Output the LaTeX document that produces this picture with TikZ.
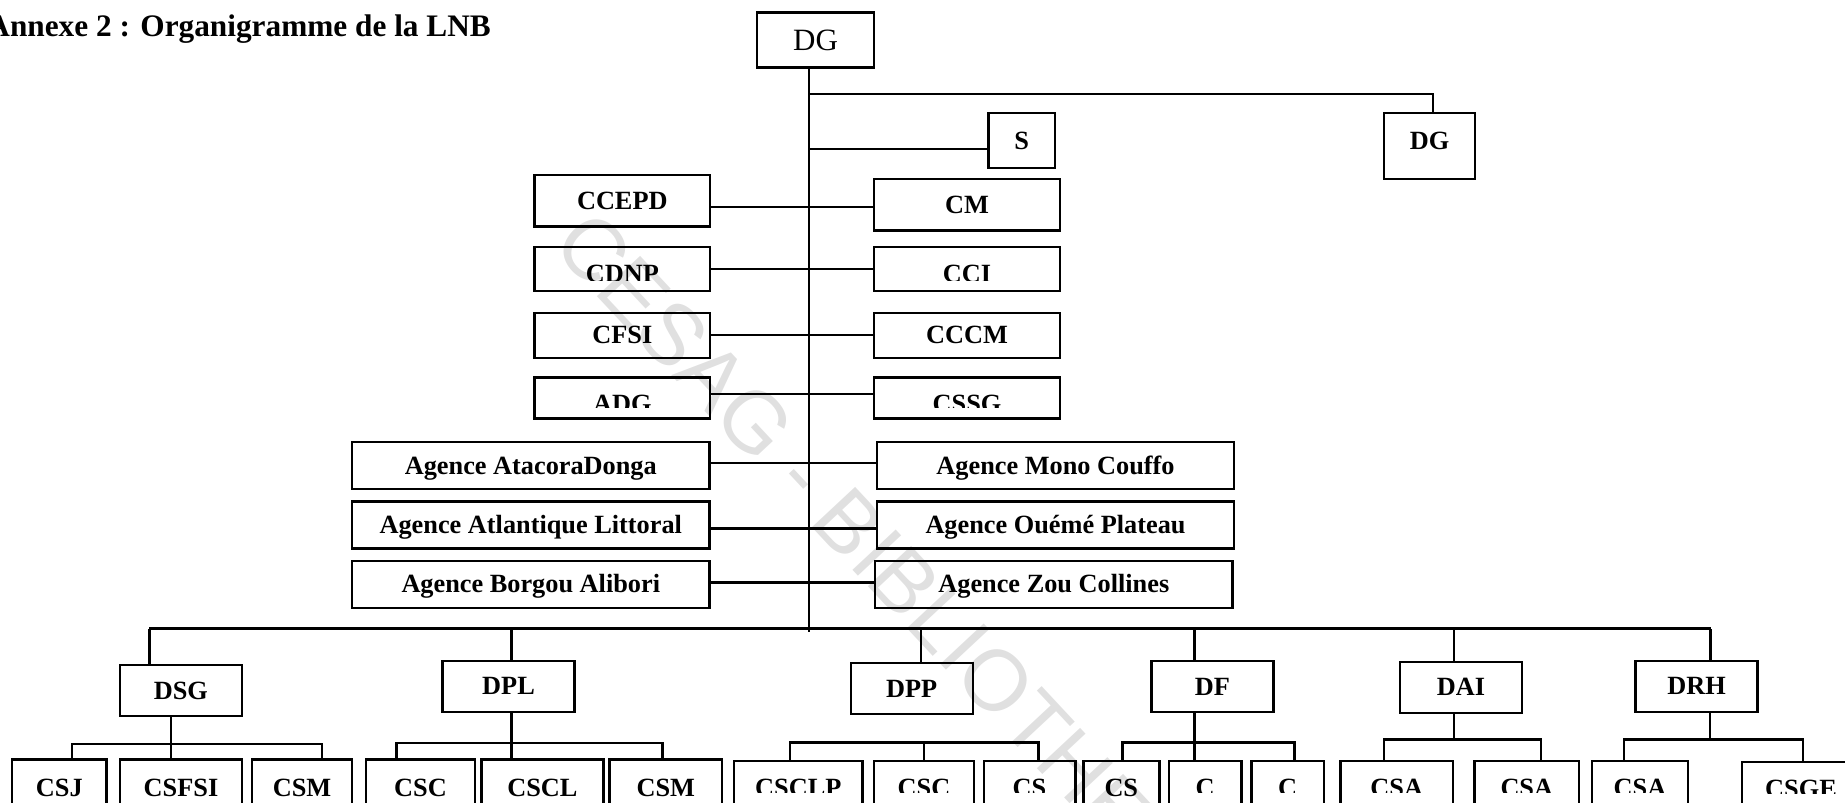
\documentclass[tikz,border=0pt]{standalone}
\usepackage{fontspec}
\setmainfont{Liberation Serif}
\newfontfamily\wmfont{Liberation Sans}
\usetikzlibrary{positioning,calc}

\newcommand\unitfont{\fontsize{26.3}{30}\selectfont\bfseries}
\newcommand\headfont{\fontsize{31.3}{36}\selectfont\bfseries}

\begin{document}
\begin{tikzpicture}[x=1pt, y=-1pt, line width=2.4pt]
    \tikzset{
        unit/.style={draw, rectangle, inner sep=0pt, font=\unitfont, text height=17.4pt, text depth=0pt},
        wire/.style={draw, line width=2.4pt},
        cutunit/.style n args={3}{unit, path picture={
            \clip ([yshift=#3]path picture bounding box.south west) rectangle (path picture bounding box.north east);
            \node[font=\unitfont, draw=none, inner sep=0pt, minimum size=0pt, anchor=base] at ([yshift=#2]path picture bounding box.south) {#1};}},
        leaf/.style n args={3}{cutunit={#1}{#2}{#3}, anchor=north, minimum height=80pt},
        leftcell/.style={unit, minimum width=175.5pt},
        rightcell/.style={unit, minimum width=186pt},
        agency/.style={unit, minimum width=357.5pt, minimum height=47pt},
        direction/.style={unit, minimum width=122pt, minimum height=51pt}
    }
    \useasboundingbox (0,0) rectangle (1845,803);
    \clip (0,0) rectangle (1845,803);

    % filigrane
    \node[font=\wmfont\fontsize{86}{90}\selectfont, text=black!12, rotate=-47] (wm) at (912,602) {CESAG - BIBLIOTHEQUE};

    \node[font=\headfont, anchor=base east, inner sep=0pt] (title) at (492,36) {Annexe 2 : Organigramme de la LNB};

    % direction generale
    \node[unit, font=\fontsize{31}{36}\selectfont, text height=20.5pt, minimum width=117pt, minimum height=55pt] (dgtop) at (815.5,40) {DG};
    \node[unit, minimum width=66.4pt, minimum height=55pt] (sec) at (1021.8,140.5) {S};
    \node[unit, text depth=10pt, minimum width=91pt, minimum height=66pt] (dgadj) at (1429.5,146) {DG};

    \node[leftcell, minimum height=51.3pt] (ccepd) at (622.3,200.7) {CCEPD};
    \node[leftcell, cutunit={CDNP}{8pt}{10.5pt}, minimum height=43.5pt] (cdnp) at (622.3,269) {};
    \node[leftcell, minimum height=45pt] (cfsi) at (622.3,335.2) {CFSI};
    \node[leftcell, cutunit={ADG}{6pt}{11pt}, minimum height=41pt] (adg) at (622.3,397.8) {};

    \node[rightcell, minimum height=51.7pt] (cm) at (967,204.8) {CM};
    \node[rightcell, cutunit={CCI}{8pt}{10.5pt}, minimum height=43.5pt] (cci) at (967,269) {};
    \node[rightcell, minimum height=45pt] (cccm) at (967,335.2) {CCCM};
    \node[rightcell, cutunit={CSSG}{6pt}{11pt}, minimum height=41pt] (cssg) at (967,397.8) {};

    % agences
    \node[agency] (atacora) at (530.8,465.5) {Agence AtacoraDonga};
    \node[agency] (atlantique) at (530.8,525) {Agence Atlantique Littoral};
    \node[agency] (borgou) at (530.8,584.2) {Agence Borgou Alibori};
    \node[agency] (mono) at (1055.5,465.5) {Agence Mono Couffo};
    \node[agency] (oueme) at (1055.5,525) {Agence Ouémé Plateau};
    \node[agency] (zou) at (1053.8,584.2) {Agence Zou Collines};

    % directions techniques
    \node[direction] (dsg) at (180.8,690.7) {DSG};
    \node[direction, minimum width=132pt] (dpl) at (508.5,686.2) {DPL};
    \node[direction] (dpp) at (911.7,688.5) {DPP};
    \node[direction] (df) at (1212.5,686.3) {DF};
    \node[direction] (dai) at (1461,687.2) {DAI};
    \node[direction] (drh) at (1696.5,686.2) {DRH};

    % services
    \node[leaf={CSJ}{43.3pt}{0pt}, minimum width=94.7pt] (csj) at (59.3,758.3) {};
    \node[leaf={CSFSI}{43.3pt}{0pt}, minimum width=122pt] (csfsi) at (181,758.3) {};
    \node[leaf={CSM}{43.3pt}{0pt}, minimum width=100pt] (csm) at (302,758.3) {};
    \node[leaf={CSC}{43.3pt}{0pt}, minimum width=109pt] (csc) at (420.5,758.3) {};
    \node[leaf={CSCL}{43.3pt}{0pt}, minimum width=122.2pt] (cscl) at (542.4,758.3) {};
    \node[leaf={CSM}{43.3pt}{0pt}, minimum width=112.9pt] (csmb) at (665.75,758.3) {};
    \node[leaf={CSCLP}{44.3pt}{48.3pt}, minimum width=128.2pt] (csclp) at (798.3,760) {};
    \node[leaf={CSC}{44.3pt}{48.3pt}, minimum width=100pt] (cscb) at (924,760) {};
    \node[leaf={CS}{44.3pt}{48.3pt}, minimum width=91.6pt] (csdpp) at (1029.5,760) {};
    \node[leaf={CS}{44.3pt}{0pt}, minimum width=76pt] (csf) at (1121.3,760) {};
    \node[leaf={C}{44.3pt}{48.3pt}, minimum width=72.6pt] (ca) at (1205,760) {};
    \node[leaf={C}{44.3pt}{48.3pt}, minimum width=72.7pt] (cb) at (1287.7,760) {};
    \node[leaf={CSA}{44.3pt}{48.3pt}, minimum width=112.5pt] (csa1) at (1396.75,760) {};
    \node[leaf={CSA}{44.3pt}{48.3pt}, minimum width=104.4pt] (csa2) at (1526.8,760) {};
    \node[leaf={CSA}{44.3pt}{48.3pt}, minimum width=96pt] (csa3) at (1640,760) {};
    \node[leaf={CSGE}{44.3pt}{48.3pt}, minimum width=118pt] (csge) at (1801,760.7) {};

    % tronc central
    \coordinate (trunk) at (809,632);
    \coordinate (jadj) at (809,93.7);
    \coordinate (js) at ([yshift=-8.5pt]sec.west);
    \draw[wire] (dgtop.south -| trunk) -- (trunk);
    \draw[wire] (jadj) -| ([xshift=3.5pt]dgadj.north);
    \draw[wire] (js) -- (js -| trunk);

    \draw[wire] ([yshift=-6pt]ccepd.east) -- ([yshift=-1.9pt]cm.west);
    \draw[wire] (cdnp.east) -- (cci.west);
    \draw[wire] (cfsi.east) -- (cccm.west);
    \draw[wire] ([yshift=3.8pt]adg.east) -- ([yshift=3.8pt]cssg.west);
    \draw[wire] ([yshift=2.8pt]atacora.east) -- ([yshift=2.8pt]mono.west);
    \draw[wire] ([yshift=-3.3pt]atlantique.east) -- ([yshift=-3.3pt]oueme.west);
    \draw[wire] ([yshift=1.9pt]borgou.east) -- ([yshift=1.9pt]zou.west);

    % bus des directions
    \coordinate (busL) at (149.3,628.5);
    \coordinate (busR) at (1710.6,628.5);
    \draw[wire] (busL) -- (busR);
    \foreach \d/\dx in {dsg/-31.5, dpl/3, dpp/9.3, df/-18.1, dai/-7.3, drh/14.1}{
        \coordinate (\d top) at ($(\d.north)+(\dx,0)$);
        \draw[wire] (\d top) -- (\d top |- busL);
    }

    % bus des services
    \draw[wire] ($(dsg.south)+(-9.8,0)$) -- ++(0,42);
    \draw[wire] ($(csj.north)+(12.4,0)$) |- ($(csm.north)+(20,-14.3)$) -- ++(0,14.3);
    \draw[wire] ($(dpl.south)+(2.9,0)$) -- ++(0,46.6);
    \draw[wire] ($(csc.north)+(-24,0)$) |- ($(csmb.north)+(-3.2,-15.6)$) -- ++(0,15.6);
    \draw[wire] ($(csclp.north)+(-8.3,0)$) |- ($(csdpp.north)+(8.8,-17.7)$) -- ++(0,17.7);
    \draw[wire] (cscb.north) -- ++(0,-17.7);
    \draw[wire] ($(df.south)+(-18.1,0)$) -- ++(0,48.3);
    \draw[wire] ($(csf.north)+(1,0)$) |- ($(cb.north)+(6.8,-17.7)$) -- ++(0,17.7);
    \draw[wire] ($(dai.south)+(-7.3,0)$) -- ++(0,26.6);
    \draw[wire] ($(csa1.north)+(-13,0)$) |- ($(csa2.north)+(14.4,-20.7)$) -- ++(0,20.7);
    \draw[wire] ($(drh.south)+(13.3,0)$) -- ++(0,27.6);
    \draw[wire] ($(csa3.north)+(-16,0)$) |- ($(csge.north)+(2,-21.4)$) -- ++(0,21.4);
\end{tikzpicture}
\end{document}
